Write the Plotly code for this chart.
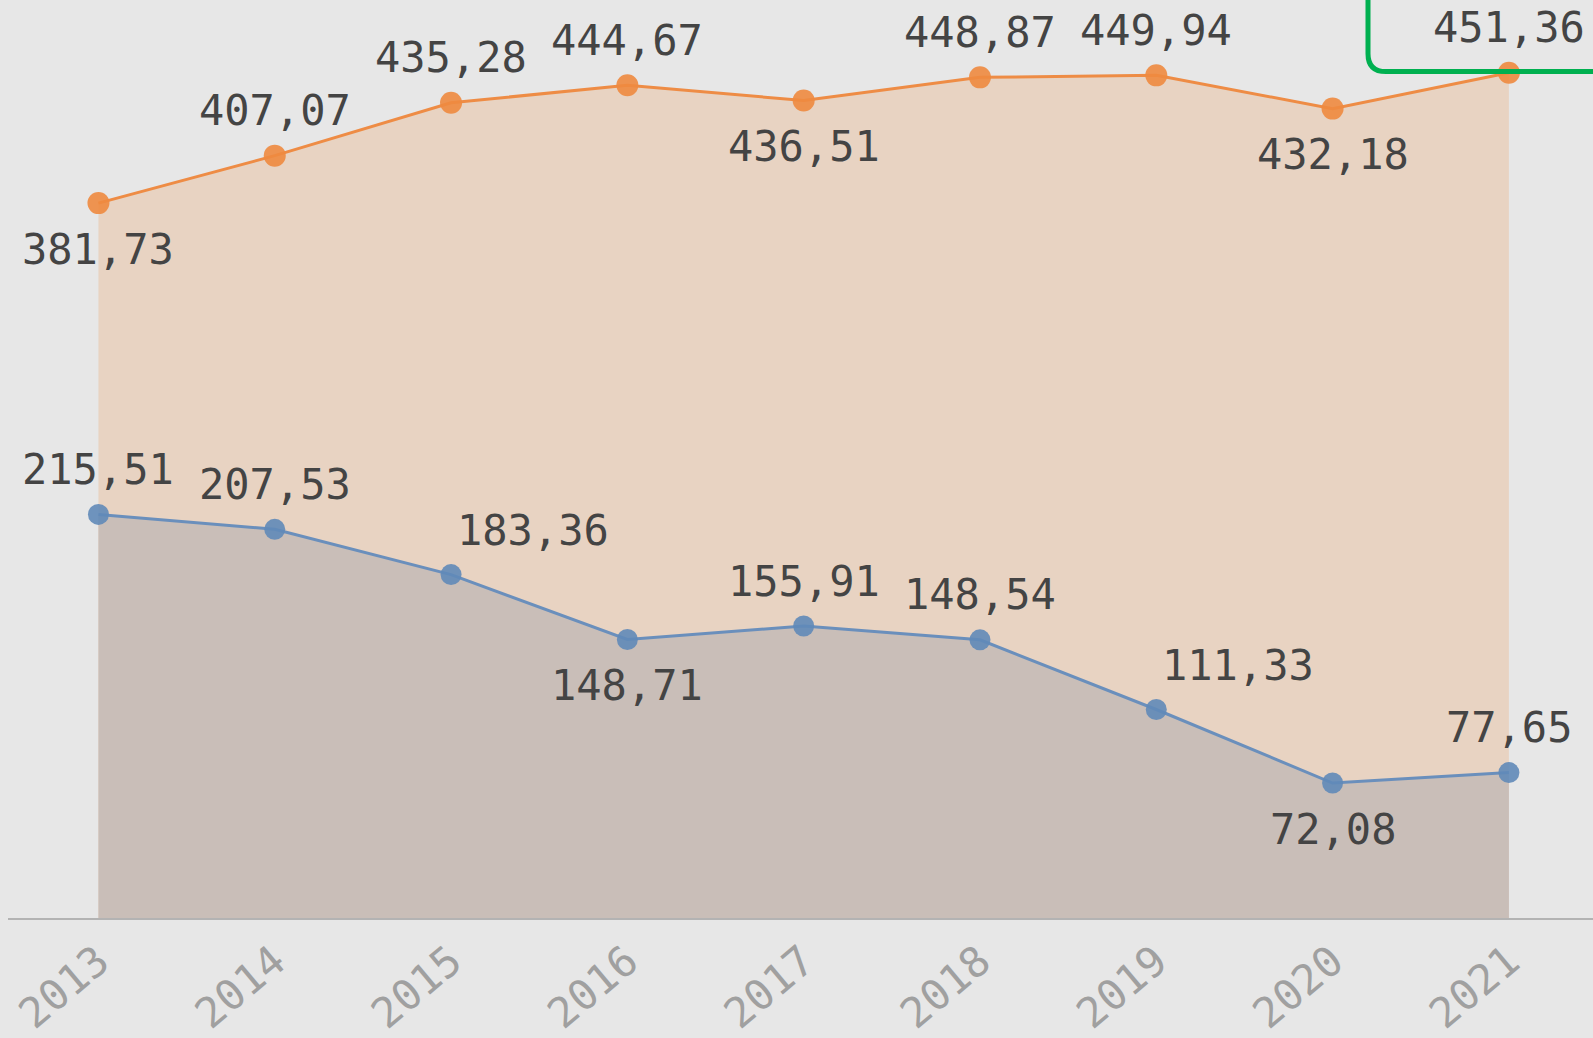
import plotly.graph_objects as go

years = [2013, 2014, 2015, 2016, 2017, 2018, 2019, 2020, 2021]
upper = [381.73, 407.07, 435.28, 444.67, 436.51, 448.87, 449.94, 432.18, 451.36]
lower = [215.51, 207.53, 183.36, 148.71, 155.91, 148.54, 111.33, 72.08, 77.65]
upper_pos = ["below", "above", "above", "above", "below", "above", "above", "below", "above"]
lower_pos = ["above", "above", "right", "below", "above", "above", "right", "below", "above"]

def fmt(v):
    return f"{v:.2f}".replace(".", ",")

W, H = 1593, 1038
L, R, T, B = 8, 0, 0, 115
PW, PH = W - L - R, H - T - B
BG = "#e7e7e7"
FONT = "DejaVu Sans Mono"

fig = go.Figure()
fig.add_trace(go.Scatter(
    x=years, y=upper, mode="lines+markers", fill="tozeroy",
    fillcolor="#e8d3c2",
    line=dict(color="#ee8c45", width=3),
    marker=dict(color="#ee8a3f", size=22, opacity=0.9),
    hoverinfo="skip"))
fig.add_trace(go.Scatter(
    x=years, y=lower, mode="lines+markers", fill="tozeroy",
    fillcolor="#c9beb8",
    line=dict(color="#6a8fbc", width=3),
    marker=dict(color="#6189b8", size=21, opacity=0.9),
    hoverinfo="skip"))

def add_labels(vals, poss):
    for x, v, p in zip(years, vals, poss):
        ys, xs = 0, 0
        if p == "above":
            ys = 45
        elif p == "below":
            ys = -46
        elif p == "right":
            ys, xs = 44, 82
        fig.add_annotation(x=x, y=v, text=fmt(v), showarrow=False,
                           xanchor="center", yanchor="middle",
                           xshift=xs, yshift=ys,
                           font=dict(family=FONT, size=42, color="#444444"))

add_labels(upper, upper_pos)
add_labels(lower, lower_pos)

# green highlight box (rounded corner), pixel -> paper conversion
def px(xp):
    return (xp - L) / PW

def py(yp):
    return 1 - (yp - T) / PH

bx, by, r = 1368, 72, 18
path = (f"M {px(bx)},{py(-20)} L {px(bx)},{py(by - r)} "
        f"Q {px(bx)},{py(by)} {px(bx + r)},{py(by)} L {px(W + 30)},{py(by)}")
fig.add_shape(type="path", path=path, xref="paper", yref="paper",
              line=dict(color="#00b050", width=5))

fig.update_layout(
    width=W, height=H,
    margin=dict(l=L, r=R, t=T, b=B),
    paper_bgcolor=BG, plot_bgcolor=BG,
    showlegend=False,
    xaxis=dict(range=[2012.487, 2021.477], tickmode="array", tickvals=years,
               ticktext=[str(y) for y in years], tickangle=-40,
               tickfont=dict(family=FONT, size=42, color="#a0a0a0"),
               showgrid=False, zeroline=False, showline=True,
               linecolor="#b3b3b3", linewidth=2, ticks=""),
    yaxis=dict(range=[0, PH / 1.883], visible=False, showgrid=False,
               zeroline=False),
)

fig.write_html("out.html", config={"displayModeBar": False},
               post_script="document.body.style.margin='0';document.body.style.overflow='hidden';")
